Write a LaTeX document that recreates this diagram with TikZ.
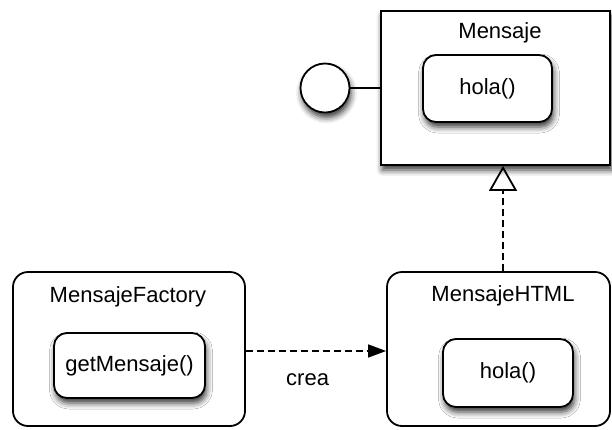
\documentclass[tikz,border=0pt]{standalone}
\usepackage{fontspec}
\setmainfont{Liberation Sans}
\usetikzlibrary{arrows.meta,shadows.blur}
\begin{document}
\begin{tikzpicture}[x=1pt,y=-1pt,
  every node/.style={font=\fontsize{22}{26}\selectfont},
  box/.style={draw, line width=1.8pt, fill=white, inner sep=0pt},
  softshadow/.style={blur shadow={shadow xshift=1.5pt, shadow yshift=-5pt,
      shadow blur radius=6pt, shadow opacity=80}},
  classbox/.style={box, rectangle, softshadow},
  roundbox/.style={box, rounded corners=15pt},
  methodbox/.style={box, rounded corners=13pt, softshadow},
  iconcircle/.style={box, circle, softshadow},
  title/.style={inner sep=0pt},
  dep/.style={line width=1.6pt, dash pattern=on 7pt off 4pt}
]
\useasboundingbox (0,0) rectangle (612,429);

% Interface Mensaje with its lollipop
\node[classbox, minimum width=229pt, minimum height=154pt] (mensaje) at (495.5,88) {};
\node[title] (mensajeT) at (500,33) {Mensaje};
\node[methodbox, minimum width=129pt, minimum height=67pt] (hola1) at (487.5,88.5) {hola()};
\node[iconcircle, minimum size=49pt] (iface) at (325,88) {};
\draw[line width=1.8pt] (iface) -- (mensaje);

% Factory class
\node[roundbox, minimum width=232pt, minimum height=154pt] (factory) at (129,349) {};
\node[title] (factoryT) at (128,297) {MensajeFactory};
\node[methodbox, minimum width=151pt, minimum height=65pt] (getm) at (129.5,365.5) {getMensaje()};

% Concrete class
\node[roundbox, minimum width=223pt, minimum height=154pt] (html) at (498.5,349) {};
\node[title] (htmlT) at (503,296) {MensajeHTML};
\node[methodbox, minimum width=130pt, minimum height=68pt] (hola2) at (508,373) {hola()};

% Realization arrow
\draw[dep, -{Triangle[open, length=25pt, width=28pt, line width=1.8pt]}]
  ([xshift=4.5pt]html.north) -- ([xshift=4.5pt]html.north |- mensaje.south);

% Creation dependency
\draw[dep, -{Triangle[length=18pt, width=13pt]}]
  ([yshift=-2pt]factory.east) -- ([yshift=-2pt]html.west)
  node[pos=0.44, below=22pt, title] (crea) {crea};
\end{tikzpicture}
\end{document}
